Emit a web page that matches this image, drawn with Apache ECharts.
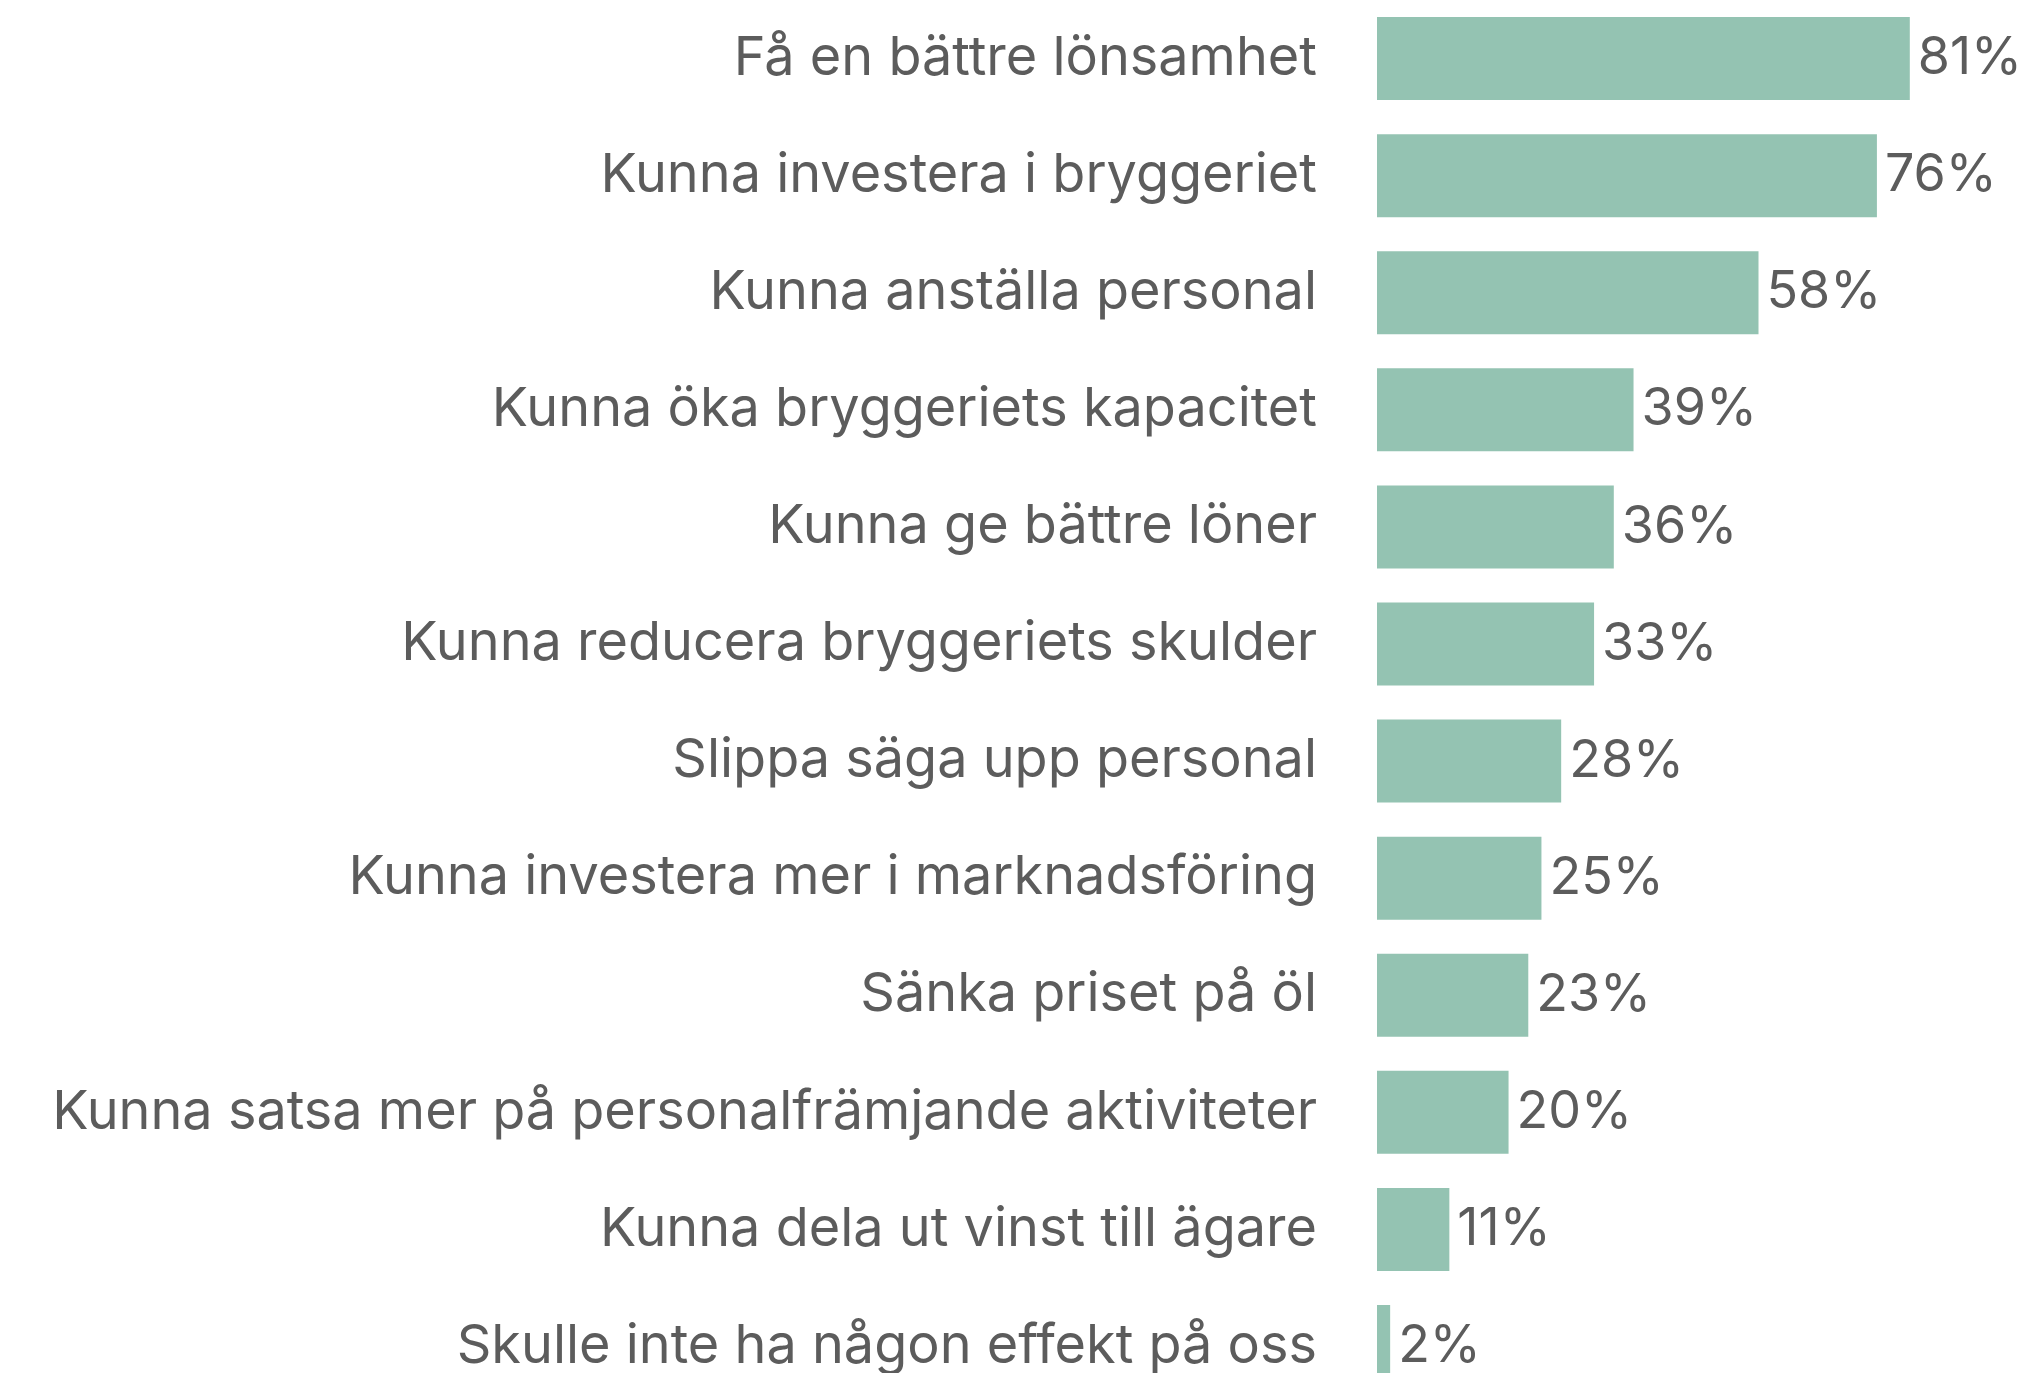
<!DOCTYPE html>
<html>
<head>
<meta charset="utf-8">
<script src="https://cdn.jsdelivr.net/npm/echarts@6/dist/echarts.min.js"></script>
<style>
html, body { margin: 0; padding: 0; background: #fff; overflow: hidden; }
/* the original is cut off at the bottom, so the chart is taller than the window */
#chart { width: 2023px; height: 1405px; }
</style>
</head>
<body>
<div id="chart"></div>
<script>
// svarsalternativ, uppifrån och ned
const categories = [
    "Få en bättre lönsamhet",
    "Kunna investera i bryggeriet",
    "Kunna anställa personal",
    "Kunna öka bryggeriets kapacitet",
    "Kunna ge bättre löner",
    "Kunna reducera bryggeriets skulder",
    "Slippa säga upp personal",
    "Kunna investera mer i marknadsföring",
    "Sänka priset på öl",
    "Kunna satsa mer på personalfrämjande aktiviteter",
    "Kunna dela ut vinst till ägare",
    "Skulle inte ha någon effekt på oss"
];
const values = [81, 76, 58, 39, 36, 33, 28, 25, 23, 20, 11, 2];

const textColor = '#5c5c5c';
const fontName = 'Inter';

var myChart = echarts.init(document.getElementById('chart'));
myChart.setOption({
    backgroundColor: '#fff',
    animation: false,
    grid: {
        left: 1377,
        top: 0,
        width: 592,
        height: 1405,
        containLabel: false
    },
    xAxis: {
        type: 'value',
        min: 0,
        max: 90,
        show: false
    },
    yAxis: {
        type: 'category',
        inverse: true,
        data: categories,
        axisLine: { show: false },
        axisTick: { show: false },
        axisLabel: {
            margin: 60,
            color: textColor,
            fontSize: 54,
            fontFamily: fontName
        }
    },
    series: [{
        type: 'bar',
        data: values,
        barWidth: 83,
        itemStyle: { color: '#94c3b2' },
        label: {
            show: true,
            position: 'right',
            distance: 8,
            formatter: '{c}%',
            color: textColor,
            fontSize: 52,
            fontFamily: fontName
        }
    }]
});
</script>
</body>
</html>
